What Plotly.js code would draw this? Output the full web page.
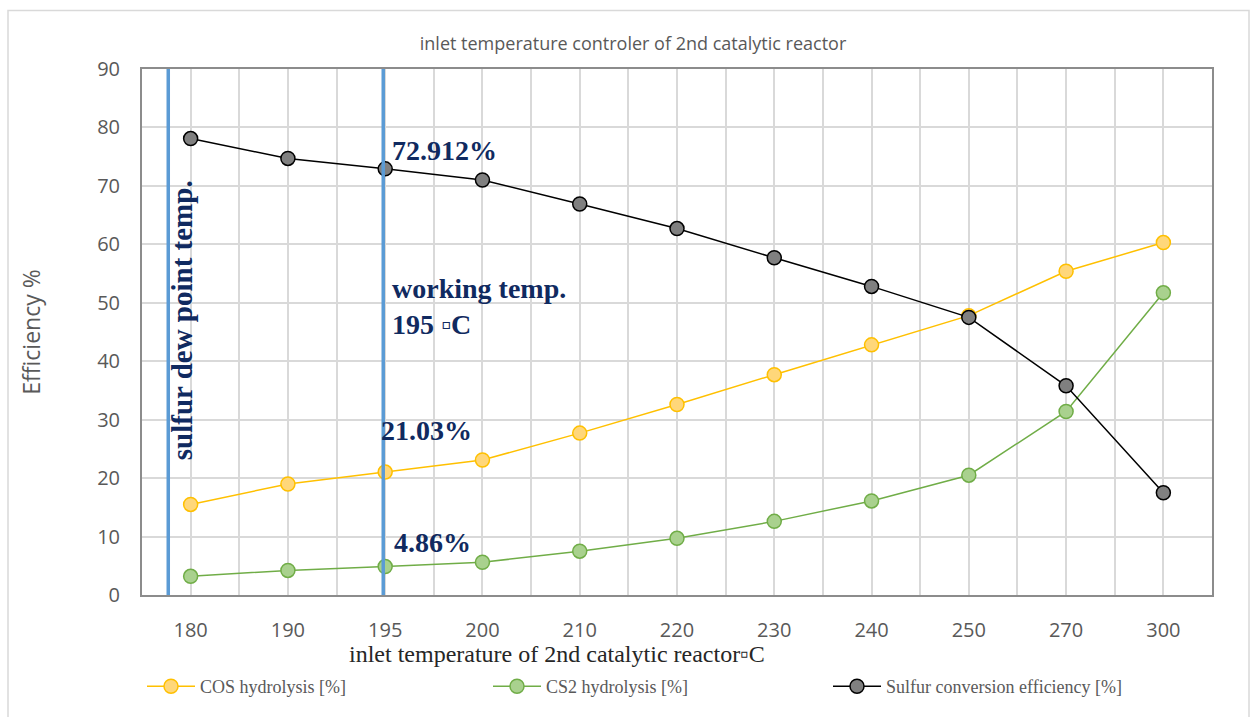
<!DOCTYPE html>
<html>
<head>
<meta charset="utf-8">
<script src="https://cdn.plot.ly/plotly-3.0.1.min.js"></script>
<style>html,body{margin:0;padding:0;background:#fff;}#chart{width:1250px;height:717px;}</style>
</head>
<body>
<div id="chart"></div>
<script>
const categories = ["180","190","195","200","210","220","230","240","250","270","300"];
const cosHydrolysis = [15.5, 19.0, 21.03, 23.1, 27.7, 32.6, 37.7, 42.8, 47.8, 55.4, 60.3];
const cs2Hydrolysis = [3.2, 4.2, 4.86, 5.6, 7.5, 9.7, 12.6, 16.1, 20.5, 31.4, 51.7];
const sulfurConversion = [78.1, 74.7, 72.912, 71.0, 66.9, 62.7, 57.7, 52.8, 47.5, 35.8, 17.5];
const yTicks = [0,10,20,30,40,50,60,70,80,90];

const idx = categories.map((c,i)=>i);
const navy = '#102a60';
const serif = 'Liberation Serif, Times New Roman, serif';
const sans = 'Open Sans, sans-serif';

function series(name, y, line, fill, outline, leg){
  return {x: idx, y: y, name: name, type: 'scatter', mode: 'lines+markers', legend: leg,
    line: {color: line, width: 1.5},
    marker: {size: 14, color: fill, line: {color: outline, width: 1.5}}};
}

const data = [
  series('COS hydrolysis [%]', cosHydrolysis, '#ffc000', '#ffd77a', '#ffc000', 'legend'),
  series('CS2 hydrolysis [%]', cs2Hydrolysis, '#70ad47', '#a9d18e', '#70ad47', 'legend2'),
  series('Sulfur conversion efficiency [%]', sulfurConversion, '#000000', '#808080', '#000000', 'legend3')
];

function leg(px){
  return {orientation: 'h', x: (px-142)/1070, xanchor: 'left', y: -0.174, yanchor: 'middle',
    itemwidth: 48, bgcolor: 'rgba(0,0,0,0)',
    font: {family: serif, size: 18, color: '#595959'}};
}

const layout = {
  width: 1250, height: 717,
  margin: {l: 142, r: 38, t: 69, b: 118},
  paper_bgcolor: '#fff', plot_bgcolor: '#fff',
  showlegend: true,
  title: {text: 'inlet temperature controler of 2nd catalytic reactor', x: 633/1250, xanchor: 'center', y: 1 - 44/717, yanchor: 'middle',
    font: {family: sans, size: 18, color: '#595959'}},
  xaxis: {
    range: [-0.5, 10.5], tickmode: 'array', tickvals: idx, ticktext: categories,
    showgrid: true, gridcolor: '#d9d9d9', gridwidth: 1.5,
    minor: {tickmode: 'linear', tick0: -0.5, dtick: 1, showgrid: true, gridcolor: '#d9d9d9', gridwidth: 1.5},
    showline: true, mirror: true, linecolor: '#8c8c8c', linewidth: 2,
    zeroline: false, ticks: 'outside', ticklen: 16, tickcolor: 'rgba(0,0,0,0)',
    tickfont: {family: sans, size: 20, color: '#595959'}
  },
  yaxis: {
    range: [0, 90], tickmode: 'array', tickvals: yTicks,
    showgrid: true, gridcolor: '#d9d9d9', gridwidth: 1.5,
    showline: true, mirror: true, linecolor: '#8c8c8c', linewidth: 2,
    zeroline: false, ticks: 'outside', ticklen: 16, tickcolor: 'rgba(0,0,0,0)',
    tickfont: {family: sans, size: 20, color: '#595959'},
    title: {text: 'Efficiency %', standoff: 50,
      font: {family: sans, size: 23, color: '#595959'}}
  },
  legend: leg(142),
  legend2: leg(488),
  legend3: leg(828),
  shapes: [
    {type: 'line', xref: 'x', yref: 'paper', x0: -0.23, x1: -0.23, y0: 0, y1: 1, line: {color: '#5b9bd5', width: 3.5}},
    {type: 'line', xref: 'x', yref: 'paper', x0: 1.98, x1: 1.98, y0: 0, y1: 1, line: {color: '#5b9bd5', width: 3.5}},
    {type: 'rect', xref: 'paper', yref: 'paper', x0: (8-142)/1070, x1: (1249-142)/1070, y0: -0.3, y1: (599-10)/530,
      line: {color: '#d9d9d9', width: 1.5}, fillcolor: 'rgba(0,0,0,0)', layer: 'below'}
  ],
  annotations: [
    {text: 'inlet temperature of 2nd catalytic reactor▫C', x: (557-142)/1070, y: (599-658)/530, xref: 'paper', yref: 'paper',
      xanchor: 'center', yanchor: 'middle', showarrow: false, font: {family: serif, size: 24, color: '#262626'}},
    {text: '<b>72.912%</b>', x: 2.05, y: 76.1, xref: 'x', yref: 'y', xanchor: 'left', yanchor: 'middle', showarrow: false,
      font: {family: serif, size: 28, color: navy}},
    {text: '<b>working temp.</b><br><b>195 ▫C</b>', x: 2.05, y: 49.4, xref: 'x', yref: 'y', xanchor: 'left', yanchor: 'middle', align: 'left', showarrow: false,
      font: {family: serif, size: 28, color: navy}},
    {text: '<b>21.03%</b>', x: 1.94, y: 28.2, xref: 'x', yref: 'y', xanchor: 'left', yanchor: 'middle', showarrow: false,
      font: {family: serif, size: 28, color: navy}},
    {text: '<b>4.86%</b>', x: 2.07, y: 9.0, xref: 'x', yref: 'y', xanchor: 'left', yanchor: 'middle', showarrow: false,
      font: {family: serif, size: 28, color: navy}},
    {text: '<b>sulfur dew point temp.</b>', x: -0.09, y: 47.0, xref: 'x', yref: 'y', xanchor: 'center', yanchor: 'middle', textangle: -90, showarrow: false,
      font: {family: serif, size: 29, color: navy}}
  ]
};

Plotly.newPlot('chart', data, layout, {displayModeBar: false, responsive: false});
</script>
</body>
</html>
